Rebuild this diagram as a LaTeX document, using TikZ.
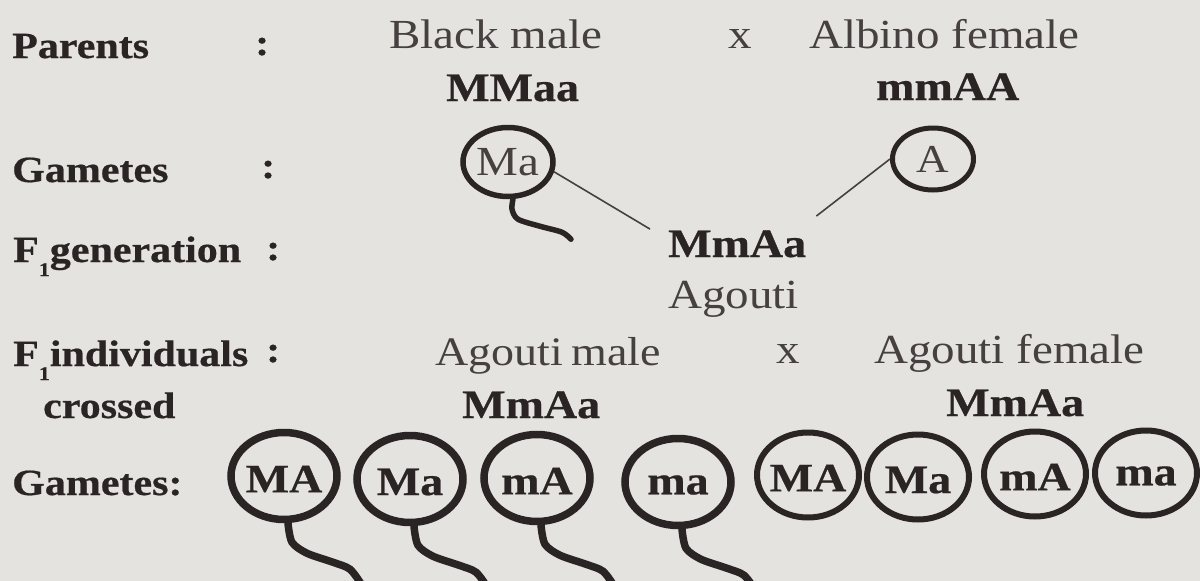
\documentclass[tikz,border=0pt]{standalone}
\usepackage{fontspec}
\setmainfont{Liberation Serif}[BoldFeatures={FakeBold=0.5}]
\usepackage{graphicx}
\usetikzlibrary{shapes.geometric,calc}
\definecolor{paper}{RGB}{229,227,224}
\definecolor{ink}{RGB}{42,36,36}
\definecolor{inkreg}{RGB}{70,64,64}
\newcommand{\sq}[1]{\scalebox{1}[0.88]{#1}}
\newcommand{\Fone}{F\raisebox{-0.38em}{\fontsize{22}{22}\selectfont 1}}
\begin{document}
\begin{tikzpicture}[x=1pt,y=-1pt,
  lbl/.style={anchor=base west, inner sep=0pt, font=\fontsize{42}{50}\selectfont\bfseries, text=ink},
  reg/.style={anchor=base west, inner sep=0pt, font=\fontsize{47}{56}\selectfont, text=inkreg},
  geno/.style={anchor=base west, inner sep=0pt, font=\fontsize{46}{55}\selectfont\bfseries, text=ink},
  gam/.style={ellipse, draw=ink, inner sep=0pt},
  male/.style={gam, line width=7.5pt, minimum width=106pt, minimum height=87pt},
  female/.style={gam, line width=6pt, minimum width=102pt, minimum height=85pt},
  glab/.style={inner sep=0pt, font=\fontsize{46}{55}\selectfont\bfseries, text=ink, yshift=-3pt},
  glabr/.style={inner sep=0pt, font=\fontsize{47}{55}\selectfont, text=inkreg},
  tail/.style={draw=ink, line width=7.5pt, line cap=round},
  conn/.style={draw=inkreg, line width=1.6pt}
]
\fill[paper] (0,0) rectangle (1200,581);
\useasboundingbox (0,0) rectangle (1200,581);

% row 1
\node[lbl] (parents) at (12,58) {\sq{Parents}};
\node[lbl] (c1) at (255,55) {\sq{:}};
\node[reg] (pm) at (389,48) {\sq{Black male}};
\node[reg] (x1) at (728,48) {\sq{x}};
\node[reg] (pf) at (809,48) {\sq{Albino female}};
\node[geno] (gm) at (446,101) {\sq{MMaa}};
\node[geno] (gf) at (876,100) {\sq{mmAA}};

% row 2
\node[lbl] (gam1) at (12,182) {\sq{Gametes}};
\node[lbl] (c2) at (261,178) {\sq{:}};
\node[gam, line width=5.5pt, minimum width=90pt, minimum height=69pt,
      label={[glabr]center:\sq{Ma}}] (gMa) at (508,162) {};
\draw[tail, line width=5.5pt, shift={($(gMa.south)+(5,0)$)}]
  plot[smooth] coordinates {(0,0) (-1,10) (5,20) (27,27) (49,33) (58,40)};
\node[gam, line width=5pt, minimum width=81pt, minimum height=62pt,
      label={[glabr, font=\fontsize{45}{50}\selectfont]center:\sq{A}}] (gA) at (933,159) {};

% row 3
\node[lbl] (f1lab) at (13,262) {\sq{\Fone generation}};
\node[lbl] (c3) at (266,260) {\sq{:}};
\node[geno] (f1) at (668,257) {\sq{MmAa}};
\node[reg] (ag) at (668,308) {\sq{Agouti}};
\draw[conn] (gMa.-12) -- ($(f1.north west)+(-18,-1)$);
\draw[conn] (gA.west) -- ($(f1.north east)+(10,-14)$);

% row 4
\node[lbl] (indlab) at (13,366) {\sq{\Fone individuals}};
\node[lbl] (c4) at (266,362) {\sq{:}};
\node[reg, font=\fontsize{46}{55}\selectfont] (am) at (435,365) {\sq{Agouti\kern-3pt\ male}};
\node[reg] (x2) at (776,363) {\sq{x}};
\node[reg] (af) at (874,363) {\sq{Agouti female}};

% row 5
\node[lbl] (crossed) at (43,418) {\sq{crossed}};
\node[geno] (gm2) at (462,418) {\sq{MmAa}};
\node[geno] (gf2) at (946,416) {\sq{MmAa}};

% row 6
\node[lbl] (gam2) at (12,495) {\sq{Gametes:}};
\foreach \n/\cx/\cy/\t in {m1/284/476/MA, m2/410/479/Ma, m3/537/478/mA, m4/678/482/ma}{
  \node[male, label={[glab]center:\sq{\t}}] (\n) at (\cx,\cy) {};
  \draw[tail, shift={($(\n.south)+(4,0)$)}]
    plot[smooth] coordinates {(0,0) (4,19) (19,30) (45,39) (62,46) (74,62)};
}
\foreach \n/\cx/\cy/\t in {f1g/808/475/MA, f2g/918/477/Ma, f3g/1035/474/mA, f4g/1146/473/ma}{
  \node[female, label={[glab]center:\sq{\t}}] (\n) at (\cx,\cy) {};
}
\end{tikzpicture}
\end{document}
